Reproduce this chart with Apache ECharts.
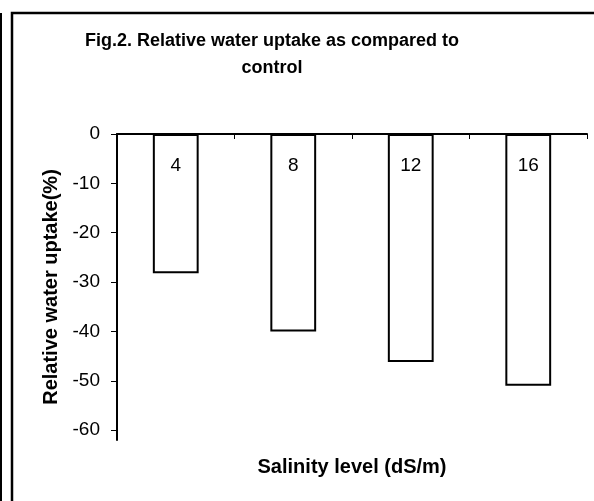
<!DOCTYPE html>
<html>
<head>
<meta charset="utf-8">
<script src="https://cdn.jsdelivr.net/npm/echarts@6/dist/echarts.min.js"></script>
<style>
  html, body { margin: 0; padding: 0; background: #fff; }
  #chart { width: 594px; height: 501px; }
</style>
</head>
<body>
<div id="chart"></div>
<script>
// salinity levels (dS/m) and relative water uptake vs control (%)
var salinity = ["4", "8", "12", "16"];
var uptake = [-28.2, -40, -46.2, -51];
var yTicks = [0, -10, -20, -30, -40, -50, -60];

var font = '"Liberation Sans", Arial, sans-serif';
var myChart = echarts.init(document.getElementById("chart"));

var option = {
  backgroundColor: "#ffffff",
  animation: false,
  title: {
    text: "Fig.2. Relative water uptake as compared to\ncontrol",
    left: 272,
    top: 28,
    padding: 0,
    textAlign: "center",
    textStyle: {
      fontFamily: font,
      fontSize: 18,
      fontWeight: "bold",
      color: "#000",
      lineHeight: 27
    }
  },
  grid: {
    left: 117,
    right: 7,
    top: 134,
    bottom: 61
  },
  xAxis: {
    type: "category",
    position: "top",
    data: salinity,
    z: 10,
    axisLine: {
      lineStyle: { color: "#000", width: 2 }
    },
    axisTick: {
      show: true,
      inside: true,
      length: 5,
      lineStyle: { color: "#000", width: 1 }
    },
    axisLabel: {
      inside: true,
      margin: 31.5,
      verticalAlign: "middle",
      fontFamily: font,
      fontSize: 19,
      color: "#000"
    }
  },
  yAxis: {
    type: "value",
    min: -62,
    max: 0,
    name: "Relative water uptake(%)",
    nameLocation: "middle",
    nameGap: 56,
    nameTextStyle: {
      fontFamily: font,
      fontSize: 20,
      fontWeight: "bold",
      color: "#000"
    },
    splitLine: { show: false },
    axisLine: {
      show: true,
      onZero: false,
      lineStyle: { color: "#000", width: 2 }
    },
    axisTick: {
      show: true,
      length: 6,
      customValues: yTicks,
      lineStyle: { color: "#000", width: 1 }
    },
    axisLabel: {
      margin: 17,
      customValues: yTicks,
      fontFamily: font,
      fontSize: 19,
      color: "#000"
    }
  },
  series: [
    {
      type: "bar",
      data: uptake,
      barWidth: "39%",
      itemStyle: {
        color: "#ffffff",
        borderColor: "#000",
        borderWidth: 2
      }
    }
  ],
  graphic: [
    {
      type: "rect",
      shape: { x: 12, y: 13, width: 620, height: 600 },
      style: { fill: null, stroke: "#000", lineWidth: 2.5 }
    },
    {
      type: "line",
      shape: { x1: 1, y1: 13, x2: 1, y2: 501 },
      style: { stroke: "#000", lineWidth: 2 }
    },
    {
      type: "text",
      x: 352,
      y: 467,
      style: {
        text: "Salinity level (dS/m)",
        fontFamily: font,
        fontSize: 20,
        fontWeight: "bold",
        fill: "#000",
        textAlign: "center",
        textVerticalAlign: "middle"
      }
    }
  ]
};

myChart.setOption(option);
</script>
</body>
</html>
